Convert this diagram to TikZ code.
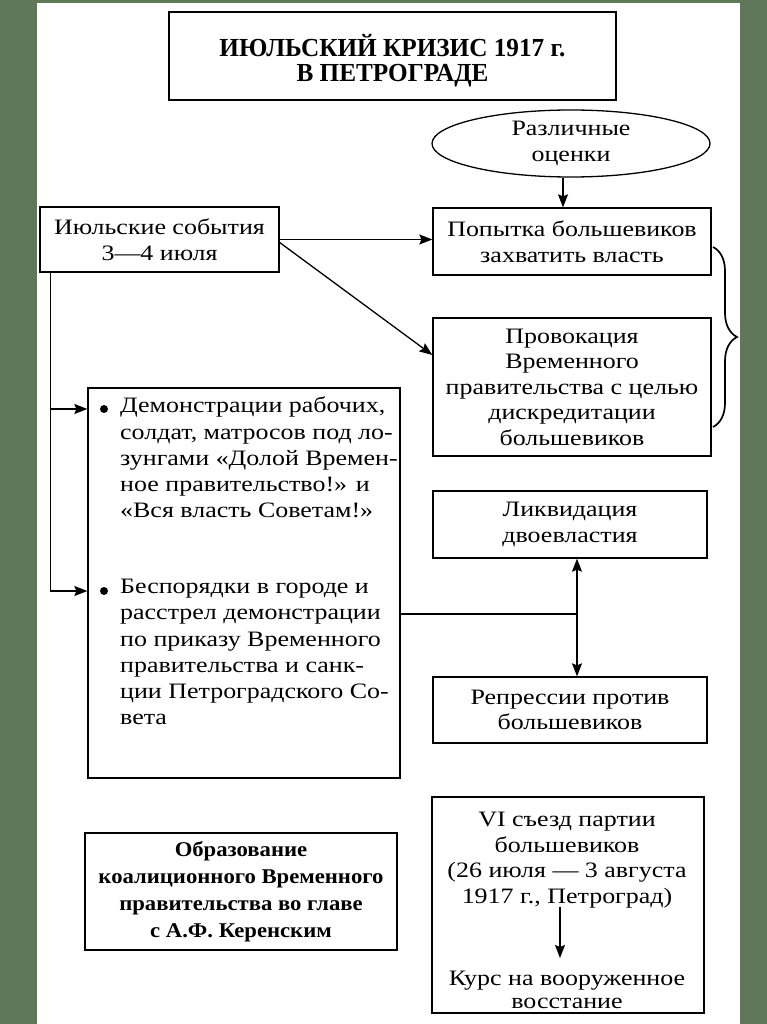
\documentclass[tikz,border=0pt]{standalone}
\usepackage{fontspec}
\setmainfont{Liberation Serif}
\newfontfamily\titlefont{Liberation Serif}[FakeStretch=0.97]
\newfontfamily\obrfont{Liberation Serif}[FakeStretch=1.08]
\newfontfamily\bodyfont{Liberation Serif}[FakeStretch=1.18]
\usetikzlibrary{arrows.meta,shapes.geometric,decorations.pathreplacing}
\definecolor{frame}{RGB}{96,120,90}
\tikzset{
  box/.style n args={2}{draw, line width=1.3pt, minimum width=#1, minimum height=#2, inner sep=0pt, align=center, font=\bodyfont\fontsize{22}{25.5}\selectfont},
  txt/.style={inner sep=0pt, align=left, font=\bodyfont\fontsize{22}{26.2}\selectfont},
  arr/.style={line width=1.3pt, -{Stealth[length=13pt,width=10pt,inset=2pt]}},
  ln/.style={line width=1.3pt},
  dot/.style={circle, fill, inner sep=0pt, minimum size=8pt}
}
\begin{document}
\begin{tikzpicture}[x=1pt,y=-1pt]
\useasboundingbox (0,0) rectangle (767,1024);
\fill[frame] (0,0) rectangle (767,1024);
\fill[white] (37,3) rectangle (740,1024);

\node[box={447}{88}] (title) at (392.5,56) {};
\node[inner sep=0pt, align=center, font=\titlefont\bfseries\fontsize{26}{25}\selectfont] (titletext) at (392.5,61) {ИЮЛЬСКИЙ КРИЗИС 1917 г.\\В ПЕТРОГРАДЕ};

\node[ellipse, draw, line width=1.3pt, minimum width=278, minimum height=67, inner sep=0pt, align=center, font=\bodyfont\fontsize{22}{26}\selectfont] (ell) at (571,143.5) {Различные\\оценки};

\node[box={278}{67}] (pop) at (572,241.5) {Попытка большевиков\\захватить власть};
\node[box={278}{138}] (prov) at (572,387) {Провокация\\Временного\\правительства с целью\\дискредитации\\большевиков};
\node[box={239}{65}] (jul) at (159.5,239.5) {Июльские события\\3—4 июля};
\node[box={312}{390}] (big) at (244,583) {};
\node[box={274}{67}] (liq) at (570,524.5) {Ликвидация\\двоевластия};
\node[box={274}{66}] (rep) at (570,710) {Репрессии против\\большевиков};
\node[box={312}{117}, font=\obrfont\bfseries\fontsize{21}{27}\selectfont] (obr) at (241,891.5) {Образование\\коалиционного Временного\\правительства во главе\\с А.Ф. Керенским};
\node[box={272}{216}] (vi) at (568,905) {};
\node[inner sep=0pt, align=center, font=\bodyfont\fontsize{22}{25.5}\selectfont] (vitop) at (567,860) {VI съезд партии\\большевиков\\(26 июля — 3 августа\\1917 г., Петроград)};
\node[inner sep=0pt, align=center, font=\bodyfont\fontsize{22}{23}\selectfont] (vibot) at (567,990) {Курс на вооруженное\\восстание};

\node[dot] (d1) at (104,409) {};
\node[dot] (d2) at (104,591) {};
\node[txt, anchor=north west] (t1) at (120,397) {Демонстрации рабочих,\\солдат, матросов под ло-\\зунгами «Долой Времен-\\ное правительство!» и\\«Вся власть Советам!»};
\node[txt, anchor=north west] (t2) at (120,579) {Беспорядки в городе и\\расстрел демонстрации\\по приказу Временного\\правительства и санк-\\ции Петроградского Со-\\вета};

% connectors
\draw[arr] ([xshift=-8pt]ell.south) -- ([xshift=-8pt]ell.south |- pop.north);
\draw[arr] (jul.east) -- (jul.east -| pop.west);
\draw[arr] ([yshift=-3pt]jul.east) -- ([yshift=32pt]prov.west);
\coordinate (c1) at (51,409);
\coordinate (c2) at (51,591);
\draw[arr] ([xshift=11pt]jul.south west) |- (c2 -| big.west);
\draw[arr] (c1) -- (c1 -| big.west);
\coordinate (j) at (577,614);
\draw[ln] (big.east |- j) -- (j);
\draw[arr] (j) -- (j |- liq.south);
\draw[arr] (j) -- (j |- rep.north);
\coordinate (b1) at (713,247);
\coordinate (b2) at (713,427);
\draw[line width=1.7pt, decorate, decoration={brace, amplitude=24pt}] (b1) -- (b2);
\coordinate (va) at (560,907);
\coordinate (vb) at (560,958);
\draw[arr] (va) -- (vb);
\end{tikzpicture}
\end{document}
